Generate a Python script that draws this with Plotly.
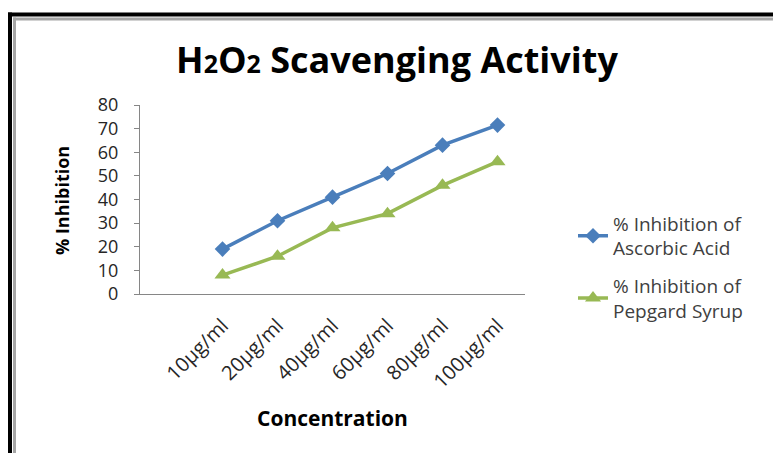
import plotly.graph_objects as go

categories = ["10μg/ml", "20μg/ml", "40μg/ml", "60μg/ml", "80μg/ml", "100μg/ml"]
ascorbic = [19, 31, 41, 51, 63, 71.5]
pepgard = [8, 16, 28, 34, 46, 56]
y_ticks = [0, 10, 20, 30, 40, 50, 60, 70, 80]
series_names = ["% Inhibition of<br>Ascorbic Acid", "% Inhibition of<br>Pepgard Syrup"]

W, H = 773, 453
L, R, T, B = 140, 525, 105, 294  # plot area in pixels


def px(x):
    return (x - L) / (R - L)


def py(y):
    return (B - y) / (B - T)


FONT = "Open Sans"
xpos = list(range(1, len(categories) + 1))

fig = go.Figure()
fig.add_trace(go.Scatter(
    x=xpos, y=ascorbic, name=series_names[0], mode="lines+markers", legendgroup="a",
    line=dict(color="#4A7EBB", width=3.5),
    marker=dict(symbol="diamond", size=12, color="#4A7EBB"),
))
fig.add_trace(go.Scatter(
    x=xpos, y=pepgard, name=series_names[1], mode="lines+markers", legendgroup="b",
    line=dict(color="#98B954", width=3.5),
    marker=dict(symbol="triangle-up", size=14, color="#98B954"),
))

shapes = [
    dict(type="line", xref="paper", yref="paper", x0=px(8), x1=px(800), y0=py(14.5), y1=py(14.5),
         line=dict(color="#000000", width=4)),
    dict(type="line", xref="paper", yref="paper", x0=px(10), x1=px(10), y0=py(12.5), y1=py(480),
         line=dict(color="#000000", width=4)),
    dict(type="line", xref="paper", yref="paper", x0=px(13), x1=px(800), y0=py(19), y1=py(19),
         line=dict(color="#A6A6A6", width=3)),
    dict(type="line", xref="paper", yref="paper", x0=px(14.5), x1=px(14.5), y0=py(17.5), y1=py(480),
         line=dict(color="#A6A6A6", width=3)),
]

annotations = [
    dict(text="Concentration", xref="paper", yref="paper", x=px(332), y=py(418),
         showarrow=False, xanchor="center", yanchor="middle",
         font=dict(family=FONT, size=21, color="#000000", weight="bold")),
    dict(text="% Inhibition", xref="paper", yref="paper", x=px(62), y=py(201),
         showarrow=False, xanchor="center", yanchor="middle", textangle=-90,
         font=dict(family=FONT, size=18, color="#000000", weight="bold")),
]

fig.update_layout(
    width=W, height=H,
    margin=dict(l=L, r=W - R, t=T, b=H - B, pad=0),
    paper_bgcolor="white", plot_bgcolor="white",
    title=dict(text="H<span style='font-size:25px'>2</span>O<span style='font-size:25px'>2</span> Scavenging Activity",
               x=397 / W, xanchor="center", y=1 - 60 / H, yanchor="middle",
               font=dict(family=FONT, size=36, color="#000000", weight="bold")),
    xaxis=dict(range=[-0.5, 6.5], tickmode="array", tickvals=xpos, ticktext=categories,
               tickangle=-45, showgrid=False, zeroline=False, showline=True,
               linecolor="#868686", linewidth=1, ticks="", ticklabelstandoff=11,
               tickfont=dict(family=FONT, size=20, color="#262626")),
    yaxis=dict(range=[0, 80], tickmode="array", tickvals=y_ticks, showgrid=False,
               zeroline=False, showline=True, linecolor="#868686", linewidth=1,
               ticks="outside", ticklen=5, tickcolor="#868686", ticklabelstandoff=12,
               tickfont=dict(family=FONT, size=18, color="#262626")),
    legend=dict(x=px(573), y=py(267), xanchor="left", yanchor="middle", tracegroupgap=10,
                traceorder="grouped",
                font=dict(family=FONT, size=19, color="#404040"), bgcolor="rgba(0,0,0,0)"),
    shapes=shapes,
    annotations=annotations,
    showlegend=True,
)

fig.write_html("out.html", config={"displayModeBar": False},
               post_script="document.body.style.margin='0px';")
